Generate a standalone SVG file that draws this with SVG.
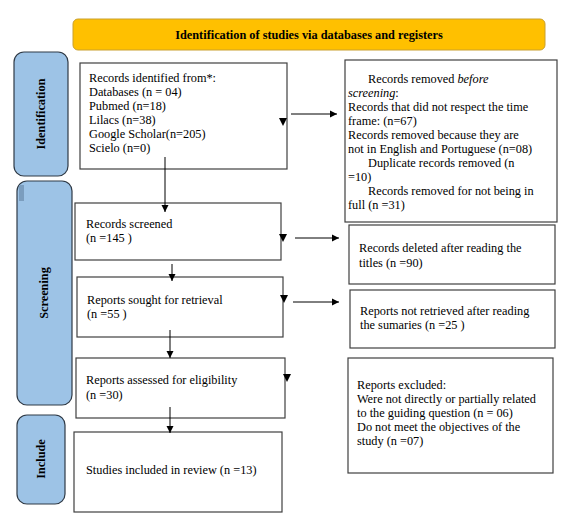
<svg xmlns="http://www.w3.org/2000/svg" width="569" height="523" viewBox="0 0 569 523">
<defs>
<style>
.t{font-family:"Liberation Serif","Times New Roman",serif;font-size:12.3px;fill:#000}
.b{font-weight:bold}
.box{fill:#fff;stroke:#404040;stroke-width:1.2}
.bar{fill:#9DC3E6;stroke:#2F3A46;stroke-width:1.2}
.ln{stroke:#000;stroke-width:1;fill:none}
</style>
<marker id="ah" markerWidth="8" markerHeight="8" refX="7" refY="4" orient="auto" markerUnits="userSpaceOnUse">
<path d="M0,0.5 L7,4 L0,7.5 Z" fill="#000"/>
</marker>
</defs>
<rect width="569" height="523" fill="#fff"/>
<g id="header">
<rect x="73" y="19" width="472" height="31" rx="5" fill="#FFC000" stroke="#C9A02E" stroke-width="1"/>
<text class="t b" x="309" y="39" text-anchor="middle" font-size="11.8">Identification of studies via databases and registers</text>
</g>
<g id="bar-identification">
<rect class="bar" x="14" y="52" width="54" height="124" rx="10"/>
<text class="t b" transform="translate(45,114) rotate(-90)" text-anchor="middle" font-size="11.5">Identification</text>
</g>
<g id="bar-screening">
<rect class="bar" x="17" y="181" width="55" height="224" rx="10"/>
<rect x="19" y="185" width="5" height="16" fill="#7B9DBE"/>
<text class="t b" transform="translate(48,293) rotate(-90)" text-anchor="middle" font-size="11.5">Screening</text>
</g>
<g id="bar-include">
<rect class="bar" x="17" y="415" width="48" height="89" rx="10"/>
<text class="t b" transform="translate(45,459) rotate(-90)" text-anchor="middle" font-size="11.5">Include</text>
</g>
<g id="records-identified">
<rect class="box" x="80" y="63" width="207" height="106"/>
<text class="t" x="89" y="82">Records identified from*:</text>
<text class="t" x="89" y="96">Databases  (n = 04)</text>
<text class="t" x="89" y="110">Pubmed (n=18)</text>
<text class="t" x="89" y="124">Lilacs (n=38)</text>
<text class="t" x="89" y="138">Google Scholar(n=205)</text>
<text class="t" x="89" y="152">Scielo (n=0)</text>
</g>
<g id="records-removed">
<rect class="box" x="345" y="60" width="212" height="162"/>
<text class="t" x="368" y="83">Records removed <tspan font-style="italic">before</tspan></text>
<text class="t" x="348" y="97"><tspan font-style="italic">screening</tspan>:</text>
<text class="t" x="348" y="111">Records that did not respect the time</text>
<text class="t" x="348" y="125">frame: (n=67)</text>
<text class="t" x="348" y="139">Records removed because they are</text>
<text class="t" x="348" y="153">not in English and Portuguese (n=08)</text>
<text class="t" x="368" y="167">Duplicate records removed (n</text>
<text class="t" x="348" y="181">=10)</text>
<text class="t" x="368" y="195">Records removed for not being in</text>
<text class="t" x="348" y="209">full (n =31)</text>
</g>
<g id="records-screened">
<rect class="box" x="75" y="203" width="206" height="57"/>
<text class="t" x="86" y="228">Records screened</text>
<text class="t" x="86" y="242">(n =145 )</text>
</g>
<g id="records-deleted">
<rect class="box" x="349" y="225" width="206" height="59"/>
<text class="t" x="359" y="252">Records deleted after reading the</text>
<text class="t" x="359" y="267">titles (n =90)</text>
</g>
<g id="reports-sought">
<rect class="box" x="77" y="277" width="206" height="60"/>
<text class="t" x="87" y="304">Reports sought for retrieval</text>
<text class="t" x="87" y="318">(n =55 )</text>
</g>
<g id="reports-not-retrieved">
<rect class="box" x="350" y="290" width="205" height="58"/>
<text class="t" x="360" y="315">Reports not retrieved after reading</text>
<text class="t" x="360" y="329">the sumaries (n =25 )</text>
</g>
<g id="reports-assessed">
<rect class="box" x="76" y="358" width="209" height="60"/>
<text class="t" x="86" y="384">Reports assessed for eligibility</text>
<text class="t" x="86" y="399">(n =30)</text>
</g>
<g id="reports-excluded">
<rect class="box" x="348" y="358" width="205" height="115"/>
<text class="t" x="357" y="389">Reports excluded:</text>
<text class="t" x="357" y="403">Were not directly or partially related</text>
<text class="t" x="357" y="417">to the guiding question (n = 06)</text>
<text class="t" x="357" y="431">Do not meet the objectives of the</text>
<text class="t" x="357" y="445">study (n =07)</text>
</g>
<g id="studies-included">
<rect class="box" x="74" y="432" width="208" height="80"/>
<text class="t" x="86" y="474">Studies included in review (n =13)</text>
</g>
<g id="connectors">
<path class="ln" d="M165,157 V212" marker-end="url(#ah)"/>
<path class="ln" d="M172,264 V281" marker-end="url(#ah)"/>
<path class="ln" d="M170,330 V358" marker-end="url(#ah)"/>
<path class="ln" d="M170,407 V433" marker-end="url(#ah)"/>
<path class="ln" d="M291,114 H337" marker-end="url(#ah)"/>
<path class="ln" d="M295,238 H339" marker-end="url(#ah)"/>
<path class="ln" d="M293,302 H339" marker-end="url(#ah)"/>
<path d="M279,118 L287,118 L283,126 Z" fill="#000"/>
<path d="M279,234 L287,234 L283,242 Z" fill="#000"/>
<path d="M280,295 L288,295 L284,303 Z" fill="#000"/>
<path d="M283,374 L291,374 L287,382 Z" fill="#000"/>
</g>
</svg>
